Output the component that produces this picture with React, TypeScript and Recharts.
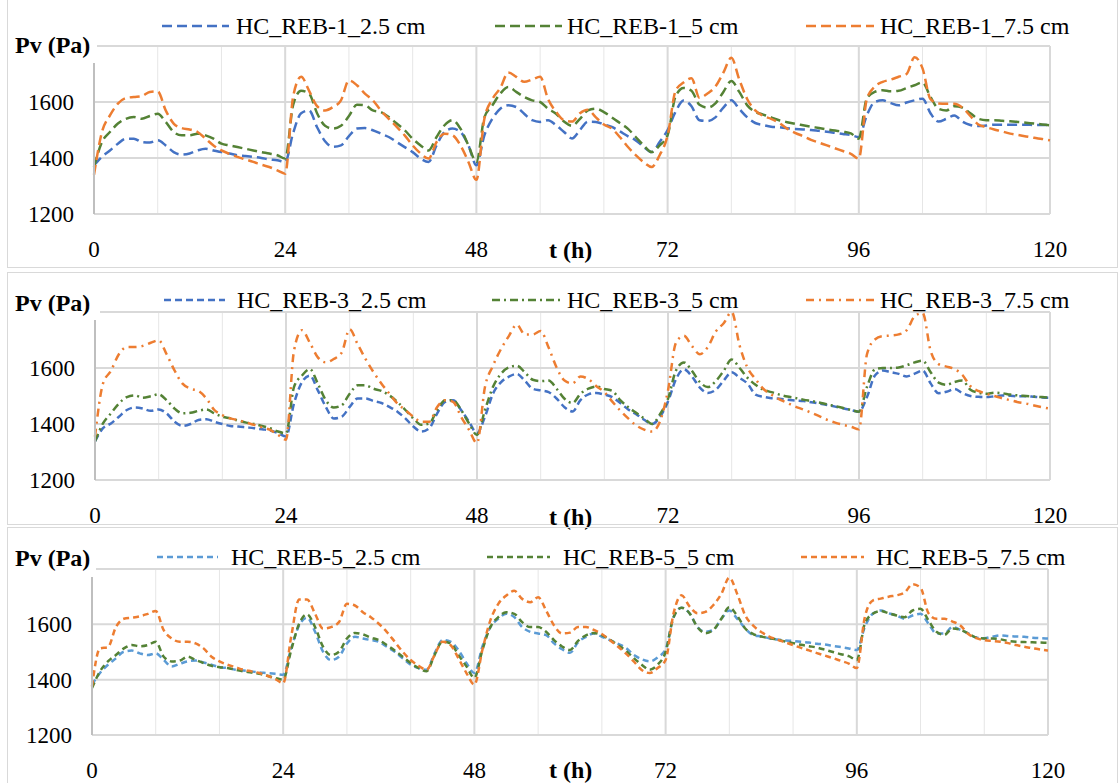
import { LineChart, Line, XAxis, YAxis, CartesianGrid, ReferenceLine } from 'recharts'

const FONT = '"Liberation Serif", "Times New Roman", serif'

const HOURS = Array.from({ length: 121 }, (_, i) => i)
const X_TICKS = [0, 8, 16, 24, 32, 40, 48, 56, 64, 72, 80, 88, 96, 104, 112, 120]
const MAJOR_X = [24, 48, 72, 96, 120]
const Y_TICKS = [1200, 1400, 1600, 1800]

// HC_REB-1
const REB1_25 = [
  1374, 1404, 1427, 1451, 1469, 1469, 1457, 1455, 1463, 1445, 1421, 1412, 1416, 1427, 1433, 1427, 1421, 1416, 1410, 1407, 1404, 1400, 1395, 1392, 1386,
  1490, 1560, 1570, 1510, 1460, 1440, 1445, 1478, 1505, 1507, 1499, 1487, 1475, 1457, 1439, 1421, 1398, 1386, 1445, 1493, 1505, 1493, 1445, 1374,
  1481, 1540, 1576, 1588, 1582, 1558, 1535, 1529, 1535, 1517, 1493, 1470, 1500, 1530, 1529, 1520, 1511, 1495, 1478, 1463, 1440, 1421, 1457, 1500,
  1565, 1605, 1585, 1535, 1532, 1545, 1580, 1606, 1575, 1545, 1525, 1518, 1512, 1510, 1506, 1504, 1502, 1500, 1497, 1494, 1490, 1486, 1482, 1475,
  1552, 1600, 1606, 1596, 1588, 1598, 1606, 1612, 1560, 1530, 1540, 1552, 1530, 1518, 1514, 1516, 1519, 1519, 1519, 1519, 1519, 1518, 1518, 1518,
]
const REB1_5 = [
  1368, 1457, 1493, 1523, 1540, 1546, 1540, 1550, 1558, 1529, 1493, 1481, 1481, 1487, 1481, 1469, 1451, 1445, 1439, 1433, 1427, 1421, 1416, 1410, 1398,
  1590, 1640, 1630, 1560, 1515, 1505, 1515, 1550, 1590, 1588, 1570, 1564, 1546, 1523, 1499, 1469, 1445, 1427, 1475, 1517, 1535, 1505, 1445, 1386,
  1545, 1588, 1630, 1654, 1636, 1618, 1606, 1600, 1576, 1558, 1530, 1515, 1540, 1570, 1576, 1564, 1545, 1525, 1505, 1475, 1445, 1421, 1445, 1481,
  1620, 1650, 1640, 1590, 1580, 1595, 1636, 1675, 1636, 1588, 1565, 1555, 1545, 1535, 1528, 1522, 1517, 1512, 1507, 1502, 1498, 1494, 1488, 1469,
  1612, 1636, 1642, 1638, 1640, 1650, 1660, 1670, 1618, 1576, 1570, 1585, 1580, 1560, 1540, 1535, 1535, 1533, 1531, 1529, 1526, 1523, 1520, 1517,
]
const REB1_75 = [
  1340, 1493, 1552, 1594, 1614, 1618, 1621, 1636, 1638, 1570, 1523, 1507, 1502, 1493, 1469, 1445, 1427, 1415, 1404, 1395, 1386, 1376, 1368, 1356, 1344,
  1620, 1690, 1640, 1585, 1570, 1582, 1606, 1677, 1660, 1630, 1606, 1570, 1540, 1511, 1481, 1445, 1416, 1398, 1457, 1487, 1481, 1445, 1386, 1322,
  1540, 1610, 1650, 1705, 1690, 1672, 1680, 1690, 1610, 1565, 1535, 1530, 1560, 1572, 1545, 1520, 1505, 1475, 1440, 1410, 1385, 1368, 1410, 1480,
  1640, 1670, 1685, 1615, 1630, 1655, 1705, 1758, 1680, 1610, 1570, 1550, 1540, 1525, 1505, 1490, 1478, 1465, 1455, 1445, 1435, 1425, 1415, 1398,
  1610, 1655, 1672, 1680, 1690, 1700, 1760, 1720, 1610, 1595, 1594, 1594, 1580, 1550, 1520, 1510, 1502, 1495, 1487, 1482, 1477, 1472, 1468, 1463,
]

// HC_REB-3
const REB3_25 = [
  1338, 1385, 1402, 1426, 1450, 1459, 1455, 1447, 1452, 1438, 1408, 1393, 1400, 1414, 1417, 1408, 1400, 1393, 1391, 1388, 1385, 1381, 1377, 1367, 1355,
  1473, 1549, 1573, 1520, 1461, 1420, 1426, 1461, 1491, 1491, 1482, 1475, 1461, 1444, 1420, 1391, 1373, 1385, 1438, 1479, 1485, 1450, 1408, 1367,
  1426, 1508, 1549, 1569, 1579, 1555, 1526, 1520, 1514, 1491, 1460, 1445, 1485, 1506, 1511, 1505, 1496, 1475, 1452, 1435, 1415, 1400, 1426, 1480,
  1560, 1595, 1570, 1530, 1511, 1522, 1555, 1585, 1565, 1544, 1505, 1497, 1492, 1490, 1487, 1484, 1482, 1478, 1473, 1468, 1462, 1456, 1450, 1444,
  1496, 1573, 1591, 1585, 1579, 1570, 1580, 1591, 1545, 1510, 1515, 1525, 1510, 1500, 1497, 1496, 1499, 1502, 1501, 1499, 1499, 1497, 1495, 1494,
]
const REB3_5 = [
  1338, 1402, 1438, 1473, 1496, 1502, 1494, 1499, 1506, 1485, 1455, 1438, 1440, 1447, 1452, 1438, 1426, 1420, 1412, 1405, 1400, 1393, 1385, 1373, 1367,
  1532, 1573, 1596, 1544, 1485, 1459, 1467, 1508, 1538, 1538, 1526, 1518, 1502, 1479, 1450, 1420, 1397, 1402, 1450, 1485, 1485, 1450, 1402, 1361,
  1450, 1532, 1579, 1602, 1608, 1585, 1558, 1553, 1555, 1526, 1490, 1475, 1508, 1526, 1534, 1525, 1518, 1485, 1460, 1440, 1420, 1400, 1435, 1490,
  1591, 1620, 1590, 1550, 1532, 1553, 1590, 1630, 1600, 1565, 1540, 1522, 1514, 1505, 1498, 1493, 1487, 1482, 1477, 1470, 1464, 1457, 1450, 1444,
  1532, 1595, 1600, 1600, 1602, 1610, 1620, 1626, 1585, 1548, 1540, 1550, 1555, 1522, 1512, 1508, 1512, 1510, 1505, 1502, 1500, 1498, 1496, 1494,
]
const REB3_75 = [
  1355, 1544, 1590, 1649, 1675, 1675, 1679, 1690, 1699, 1649, 1591, 1544, 1526, 1518, 1491, 1450, 1432, 1420, 1414, 1405, 1397, 1388, 1379, 1361, 1344,
  1661, 1735, 1690, 1638, 1620, 1632, 1655, 1738, 1685, 1632, 1585, 1544, 1508, 1473, 1450, 1426, 1408, 1408, 1461, 1485, 1479, 1426, 1379, 1332,
  1532, 1608, 1667, 1714, 1755, 1720, 1720, 1732, 1673, 1602, 1555, 1545, 1570, 1560, 1535, 1514, 1480, 1448, 1420, 1395, 1380, 1373, 1410, 1520,
  1690, 1715, 1679, 1649, 1675, 1730, 1760, 1800, 1680, 1600, 1560, 1525, 1505, 1488, 1475, 1462, 1452, 1440, 1428, 1415, 1405, 1397, 1390, 1381,
  1649, 1702, 1714, 1716, 1720, 1735, 1785, 1796, 1661, 1614, 1605, 1596, 1575, 1535, 1518, 1508, 1500, 1492, 1485, 1478, 1473, 1466, 1460, 1455,
]

// HC_REB-5
const REB5_25 = [
  1382, 1424, 1454, 1477, 1501, 1505, 1495, 1489, 1495, 1471, 1448, 1457, 1466, 1469, 1462, 1454, 1445, 1442, 1436, 1433, 1430, 1426, 1424, 1421, 1418,
  1513, 1596, 1624, 1573, 1501, 1471, 1483, 1531, 1555, 1549, 1543, 1537, 1519, 1501, 1477, 1454, 1442, 1436, 1495, 1543, 1537, 1507, 1460, 1424,
  1519, 1590, 1620, 1638, 1626, 1590, 1573, 1567, 1561, 1531, 1510, 1497, 1535, 1555, 1567, 1555, 1543, 1530, 1515, 1490, 1474, 1466, 1480, 1510,
  1626, 1660, 1640, 1590, 1573, 1580, 1620, 1650, 1620, 1585, 1561, 1556, 1550, 1545, 1542, 1540, 1537, 1534, 1530, 1527, 1522, 1518, 1513, 1507,
  1590, 1638, 1650, 1640, 1632, 1620, 1632, 1638, 1602, 1567, 1567, 1590, 1580, 1567, 1552, 1550, 1555, 1560, 1558, 1556, 1555, 1552, 1550, 1549,
]
const REB5_5 = [
  1370, 1430, 1466, 1489, 1513, 1525, 1521, 1525, 1537, 1483, 1466, 1469, 1483, 1471, 1460, 1450, 1445, 1442, 1436, 1430, 1426, 1421, 1414, 1406, 1400,
  1507, 1602, 1636, 1590, 1519, 1489, 1501, 1549, 1569, 1564, 1552, 1543, 1525, 1505, 1483, 1460, 1442, 1430, 1489, 1537, 1531, 1489, 1448, 1406,
  1507, 1590, 1626, 1644, 1638, 1608, 1590, 1590, 1573, 1543, 1520, 1507, 1540, 1560, 1569, 1561, 1545, 1525, 1505, 1478, 1454, 1436, 1454, 1500,
  1626, 1660, 1640, 1590, 1568, 1580, 1620, 1662, 1630, 1585, 1565, 1556, 1550, 1545, 1538, 1532, 1526, 1521, 1516, 1508, 1500, 1492, 1485, 1471,
  1602, 1638, 1648, 1640, 1632, 1626, 1650, 1656, 1614, 1573, 1562, 1585, 1580, 1567, 1552, 1549, 1549, 1546, 1540, 1537, 1536, 1535, 1534, 1533,
]
const REB5_75 = [
  1376, 1513, 1517, 1590, 1620, 1624, 1629, 1638, 1648, 1579, 1549, 1537, 1537, 1531, 1513, 1483, 1466, 1454, 1445, 1436, 1430, 1424, 1414, 1402, 1388,
  1555, 1690, 1690, 1638, 1585, 1590, 1608, 1674, 1668, 1644, 1626, 1602, 1573, 1537, 1501, 1471, 1450, 1436, 1489, 1537, 1525, 1477, 1424, 1382,
  1507, 1614, 1674, 1704, 1721, 1692, 1680, 1698, 1650, 1596, 1567, 1570, 1590, 1590, 1580, 1565, 1543, 1520, 1495, 1466, 1435, 1424, 1442, 1471,
  1640, 1705, 1665, 1640, 1645, 1670, 1710, 1769, 1709, 1632, 1595, 1572, 1556, 1545, 1535, 1525, 1515, 1506, 1496, 1487, 1478, 1468, 1458, 1442,
  1625, 1686, 1693, 1700, 1705, 1715, 1745, 1733, 1640, 1620, 1620, 1610, 1596, 1565, 1550, 1543, 1540, 1537, 1532, 1525, 1519, 1514, 1509, 1505,
]

const DEPTHS = ['2.5 cm', '5 cm', '7.5 cm']

const PANELS = [
  {
    prefix: 'HC_REB-1_',
    values: [REB1_25, REB1_5, REB1_75],
    colors: ['#4472C4', '#548235', '#ED7D31'],
    dashes: ['10 5', '10 5', '10 5'],
    top: 0, h: 268, plotTop: 46, plotBottom: 214, plotLeft: 94, plotRight: 1050,
    box: { top: -1, height: 269 },
    legendY: 26,
    legend: [[162, 229, 236], [495, 562, 567], [806, 874, 880]],
    pv: { top: 28, width: 88, height: 35, y: 45 },
    xLabelY: 250,
  },
  {
    prefix: 'HC_REB-3_',
    values: [REB3_25, REB3_5, REB3_75],
    colors: ['#4472C4', '#548235', '#ED7D31'],
    dashes: ['7 4', '8 4 2 4', '8 5 2 5'],
    top: 270, h: 264, plotTop: 312, plotBottom: 480, plotLeft: 95, plotRight: 1050,
    box: { top: 272, height: 253 },
    legendY: 300,
    legend: [[164, 225, 237], [492, 560, 567], [806, 874, 880]],
    pv: { top: 285, width: 91, height: 35, y: 303 },
    xLabelY: 517,
  },
  {
    prefix: 'HC_REB-5_',
    values: [REB5_25, REB5_5, REB5_75],
    colors: ['#5B9BD5', '#548235', '#ED7D31'],
    dashes: ['6 4', '6 4', '6 4'],
    top: 526, h: 257, plotTop: 569, plotBottom: 735, plotLeft: 92, plotRight: 1048,
    box: { top: 527, height: 300 },
    legendY: 557,
    legend: [[157, 218, 231], [487, 550, 563], [801, 864, 876]],
    pv: { top: 540, width: 87, height: 37, y: 558 },
    xLabelY: 770,
  },
]

const Y_AXIS_W = 80
const X_AXIS_H = 45

function Text({ x, y, children, bold = false, size = 24 }: any) {
  return (
    <div
      style={{
        position: 'absolute', left: x, top: y - 15, height: 30, lineHeight: '30px',
        fontFamily: FONT, fontSize: size, fontWeight: bold ? 700 : 400, color: '#000', whiteSpace: 'nowrap',
      }}
    >
      {children}
    </div>
  )
}

function Panel({ p }: any) {
  const data = HOURS.map((t, i) => ({ t, s0: p.values[0][i], s1: p.values[1][i], s2: p.values[2][i] }))
  const margin = {
    top: p.plotTop - p.top,
    left: p.plotLeft - Y_AXIS_W,
    right: 1120 - p.plotRight,
    bottom: p.top + p.h - p.plotBottom - X_AXIS_H,
  }
  return (
    <>
      <div
        style={{
          position: 'absolute', left: 7, top: p.box.top, width: 1111, height: p.box.height,
          border: '1px solid #d9d9d9', boxSizing: 'border-box',
        }}
      />
      <div style={{ position: 'absolute', left: 0, top: p.top }}>
        <LineChart width={1120} height={p.h} data={data} margin={margin} style={{ overflow: 'visible' }}>
          <CartesianGrid horizontal={false} stroke="#e6e6e6" strokeWidth={1} />
          {Y_TICKS.slice(1).map((y) => (
            <ReferenceLine key={'y' + y} y={y} stroke="#d9d9d9" strokeWidth={2} />
          ))}
          {MAJOR_X.map((x) => (
            <ReferenceLine key={'x' + x} x={x} stroke="#d9d9d9" strokeWidth={2} />
          ))}
          <XAxis
            dataKey="t"
            type="number"
            domain={[0, 120]}
            ticks={X_TICKS}
            interval={0}
            tickFormatter={(v: number) => (v % 24 === 0 ? String(v) : '')}
            tickLine={false}
            tickSize={0}
            tickMargin={27}
            height={X_AXIS_H}
            axisLine={{ stroke: '#d9d9d9', strokeWidth: 2 }}
            tick={{ fill: '#000', fontSize: 23, fontFamily: FONT }}
          />
          <YAxis
            type="number"
            domain={[1200, 1800]}
            ticks={Y_TICKS}
            interval={0}
            tickFormatter={(v: number) => (v === 1800 ? '' : String(v))}
            tickLine={false}
            tickSize={0}
            tickMargin={20}
            width={Y_AXIS_W}
            axisLine={{ stroke: '#bfbfbf', strokeWidth: 2 }}
            tick={{ fill: '#000', fontSize: 23, fontFamily: FONT }}
          />
          {[0, 1, 2].map((k) => (
            <Line
              key={k}
              type="monotone"
              dataKey={'s' + k}
              stroke={p.colors[k]}
              strokeWidth={2.5}
              strokeDasharray={p.dashes[k]}
              dot={false}
              activeDot={false}
              isAnimationActive={false}
            />
          ))}
        </LineChart>
      </div>
      {/* axis titles */}
      <div
        style={{
          position: 'absolute', left: 9, top: p.pv.top, width: p.pv.width, height: p.pv.height, background: '#fff',
        }}
      />
      <Text x={15} y={p.pv.y} bold>Pv (Pa)</Text>
      <Text x={549} y={p.xLabelY} bold>t (h)</Text>
      {/* legend */}
      {p.legend.map(([x1, x2, tx]: number[], k: number) => (
        <div key={k}>
          <svg style={{ position: 'absolute', left: x1, top: p.legendY - 3 }} width={x2 - x1} height={6}>
            <line x1={0} y1={3} x2={x2 - x1} y2={3} stroke={p.colors[k]} strokeWidth={2.5} strokeDasharray={p.dashes[k]} />
          </svg>
          <Text x={tx} y={p.legendY}>{p.prefix + DEPTHS[k]}</Text>
        </div>
      ))}
    </>
  )
}

export default function App() {
  return (
    <div style={{ position: 'relative', width: 1120, height: 783, background: '#fff', overflow: 'hidden' }}>
      <style>{'body{margin:0}'}</style>
      {PANELS.map((p, i) => (
        <Panel key={i} p={p} />
      ))}
    </div>
  )
}
